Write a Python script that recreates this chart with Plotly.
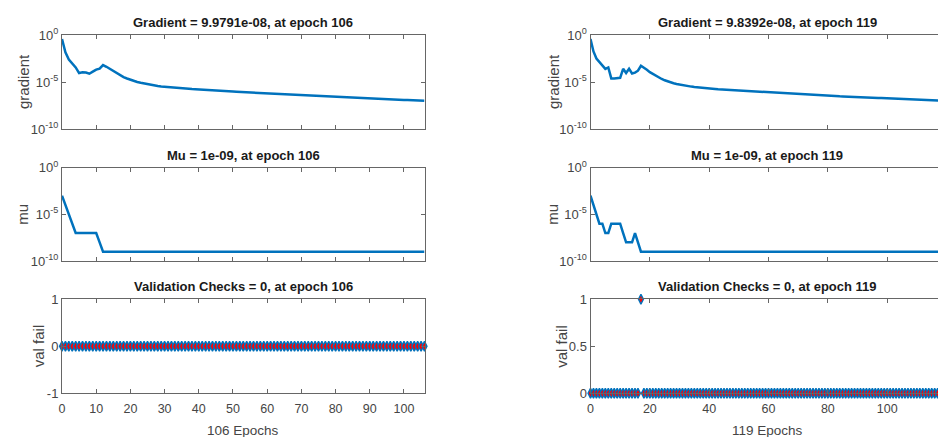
import plotly.graph_objects as go

# ---------------------------------------------------------------- data
# Training run A: 106 epochs (epochs 0..106)
epochs_a = list(range(107))
grad_exp_a = [  # log10 of gradient, epochs 0..105
    -0.42, -1.85, -2.6, -3.0, -3.45, -4.05, -3.97, -4.0, -4.12, -3.9,
    -3.68, -3.58, -3.2, -3.38, -3.6, -3.85, -4.08, -4.3, -4.48, -4.63,
    -4.77, -4.9, -5.0, -5.08, -5.16, -5.24, -5.31, -5.37, -5.42, -5.47,
    -5.51, -5.55, -5.58, -5.61, -5.64, -5.67, -5.7, -5.72, -5.75, -5.77,
    -5.8, -5.82, -5.84, -5.87, -5.89, -5.91, -5.93, -5.95, -5.97, -6.0,
    -6.02, -6.04, -6.06, -6.08, -6.1, -6.12, -6.14, -6.16, -6.18, -6.2,
    -6.22, -6.24, -6.26, -6.28, -6.3, -6.31, -6.33, -6.35, -6.37, -6.39,
    -6.41, -6.43, -6.45, -6.47, -6.48, -6.5, -6.52, -6.54, -6.56, -6.57,
    -6.59, -6.61, -6.63, -6.64, -6.66, -6.68, -6.69, -6.71, -6.73, -6.74,
    -6.76, -6.77, -6.79, -6.8, -6.82, -6.83, -6.85, -6.86, -6.88, -6.89,
    -6.91, -6.92, -6.94, -6.95, -6.97, -6.98,
]
grad_final_a = 9.9791e-08
mu_a = [
    1e-3, 1e-4, 1e-5, 1e-6, 1e-7, 1e-7, 1e-7, 1e-7, 1e-7, 1e-7,
    1e-7, 1e-8, 1e-9, 1e-9, 1e-9, 1e-9, 1e-9, 1e-9, 1e-9, 1e-9,
    1e-9, 1e-9, 1e-9, 1e-9, 1e-9, 1e-9, 1e-9, 1e-9, 1e-9, 1e-9,
    1e-9, 1e-9, 1e-9, 1e-9, 1e-9, 1e-9, 1e-9, 1e-9, 1e-9, 1e-9,
    1e-9, 1e-9, 1e-9, 1e-9, 1e-9, 1e-9, 1e-9, 1e-9, 1e-9, 1e-9,
    1e-9, 1e-9, 1e-9, 1e-9, 1e-9, 1e-9, 1e-9, 1e-9, 1e-9, 1e-9,
    1e-9, 1e-9, 1e-9, 1e-9, 1e-9, 1e-9, 1e-9, 1e-9, 1e-9, 1e-9,
    1e-9, 1e-9, 1e-9, 1e-9, 1e-9, 1e-9, 1e-9, 1e-9, 1e-9, 1e-9,
    1e-9, 1e-9, 1e-9, 1e-9, 1e-9, 1e-9, 1e-9, 1e-9, 1e-9, 1e-9,
    1e-9, 1e-9, 1e-9, 1e-9, 1e-9, 1e-9, 1e-9, 1e-9, 1e-9, 1e-9,
    1e-9, 1e-9, 1e-9, 1e-9, 1e-9, 1e-9, 1e-9,
]
val_fail_a = [
    0, 0, 0, 0, 0, 0, 0, 0, 0, 0, 0, 0, 0, 0, 0, 0, 0, 0, 0, 0,
    0, 0, 0, 0, 0, 0, 0, 0, 0, 0, 0, 0, 0, 0, 0, 0, 0, 0, 0, 0,
    0, 0, 0, 0, 0, 0, 0, 0, 0, 0, 0, 0, 0, 0, 0, 0, 0, 0, 0, 0,
    0, 0, 0, 0, 0, 0, 0, 0, 0, 0, 0, 0, 0, 0, 0, 0, 0, 0, 0, 0,
    0, 0, 0, 0, 0, 0, 0, 0, 0, 0, 0, 0, 0, 0, 0, 0, 0, 0, 0, 0,
    0, 0, 0, 0, 0, 0, 0,
]

# Training run B: 119 epochs (epochs 0..119)
epochs_b = list(range(120))
grad_exp_b = [  # log10 of gradient, epochs 0..118
    -0.42, -1.75, -2.5, -2.9, -3.2, -3.6, -3.45, -4.62, -4.62, -4.6,
    -4.55, -3.6, -4.05, -3.6, -4.1, -4.0, -3.8, -3.28, -3.45, -3.7,
    -3.95, -4.15, -4.35, -4.52, -4.68, -4.82, -4.94, -5.04, -5.13, -5.21,
    -5.28, -5.34, -5.4, -5.45, -5.49, -5.53, -5.57, -5.6, -5.63, -5.66,
    -5.69, -5.72, -5.74, -5.77, -5.79, -5.81, -5.83, -5.85, -5.87, -5.89,
    -5.91, -5.93, -5.95, -5.97, -5.99, -6.01, -6.03, -6.05, -6.07, -6.09,
    -6.11, -6.13, -6.15, -6.17, -6.19, -6.21, -6.22, -6.24, -6.26, -6.28,
    -6.29, -6.31, -6.33, -6.34, -6.36, -6.38, -6.39, -6.41, -6.43, -6.44,
    -6.46, -6.47, -6.49, -6.5, -6.52, -6.53, -6.55, -6.56, -6.57, -6.59,
    -6.6, -6.62, -6.63, -6.64, -6.66, -6.67, -6.68, -6.7, -6.71, -6.72,
    -6.74, -6.75, -6.76, -6.78, -6.79, -6.8, -6.81, -6.83, -6.84, -6.85,
    -6.86, -6.88, -6.89, -6.9, -6.91, -6.93, -6.94, -6.95, -6.97,
]
grad_final_b = 9.8392e-08
mu_b = [
    1e-3, 1e-4, 1e-5, 1e-6, 1e-6, 1e-7, 1e-7, 1e-6, 1e-6, 1e-6,
    1e-6, 1e-7, 1e-8, 1e-8, 1e-8, 1e-7, 1e-8, 1e-9, 1e-9, 1e-9,
    1e-9, 1e-9, 1e-9, 1e-9, 1e-9, 1e-9, 1e-9, 1e-9, 1e-9, 1e-9,
    1e-9, 1e-9, 1e-9, 1e-9, 1e-9, 1e-9, 1e-9, 1e-9, 1e-9, 1e-9,
    1e-9, 1e-9, 1e-9, 1e-9, 1e-9, 1e-9, 1e-9, 1e-9, 1e-9, 1e-9,
    1e-9, 1e-9, 1e-9, 1e-9, 1e-9, 1e-9, 1e-9, 1e-9, 1e-9, 1e-9,
    1e-9, 1e-9, 1e-9, 1e-9, 1e-9, 1e-9, 1e-9, 1e-9, 1e-9, 1e-9,
    1e-9, 1e-9, 1e-9, 1e-9, 1e-9, 1e-9, 1e-9, 1e-9, 1e-9, 1e-9,
    1e-9, 1e-9, 1e-9, 1e-9, 1e-9, 1e-9, 1e-9, 1e-9, 1e-9, 1e-9,
    1e-9, 1e-9, 1e-9, 1e-9, 1e-9, 1e-9, 1e-9, 1e-9, 1e-9, 1e-9,
    1e-9, 1e-9, 1e-9, 1e-9, 1e-9, 1e-9, 1e-9, 1e-9, 1e-9, 1e-9,
    1e-9, 1e-9, 1e-9, 1e-9, 1e-9, 1e-9, 1e-9, 1e-9, 1e-9, 1e-9,
]
val_fail_b = [
    0, 0, 0, 0, 0, 0, 0, 0, 0, 0, 0, 0, 0, 0, 0, 0, 0, 1, 0, 0,
    0, 0, 0, 0, 0, 0, 0, 0, 0, 0, 0, 0, 0, 0, 0, 0, 0, 0, 0, 0,
    0, 0, 0, 0, 0, 0, 0, 0, 0, 0, 0, 0, 0, 0, 0, 0, 0, 0, 0, 0,
    0, 0, 0, 0, 0, 0, 0, 0, 0, 0, 0, 0, 0, 0, 0, 0, 0, 0, 0, 0,
    0, 0, 0, 0, 0, 0, 0, 0, 0, 0, 0, 0, 0, 0, 0, 0, 0, 0, 0, 0,
    0, 0, 0, 0, 0, 0, 0, 0, 0, 0, 0, 0, 0, 0, 0, 0, 0, 0, 0, 0,
]

# tick positions / labels
log_tickvals = [1e-10, 1e-5, 1]
log_ticktext = ["10<sup>-10</sup>", "10<sup>-5</sup>", "10<sup>0</sup>"]
xticks_a = [0, 10, 20, 30, 40, 50, 60, 70, 80, 90, 100]
xticks_b = [0, 20, 40, 60, 80, 100, 120]
val_ticks_a = [-1, 0, 1]
val_ticks_b = [0, 0.5, 1]

# ---------------------------------------------------------------- style
W, H = 938, 437
FONT = "Liberation Sans, Arial, Helvetica, sans-serif"
LINE_BLUE = "#0072BD"
AXIS_COL = "#666666"
TEXT_COL = "#454545"


def px_x(p):
    return p / W


def px_y(p):
    return 1 - p / H


grad_a = [10 ** e for e in grad_exp_a] + [grad_final_a]
grad_b = [10 ** e for e in grad_exp_b] + [grad_final_b]

# panel boxes in pixels; run B's axes run past the right edge of the page
col_a = (62, 424.5)
col_b = (590.5, 938)
px_per_epoch_a = (col_a[1] - col_a[0]) / epochs_a[-1]
px_per_epoch_b = 2.967
rows = [(35, 129), (167.7, 261), (299.3, 393.3)]
x_end_b = (col_b[1] - col_b[0]) / px_per_epoch_b

fig = go.Figure()

panels = [
    # (axis id, x, y, kind)
    (1, epochs_a, grad_a, "line"),
    (2, epochs_a, mu_a, "line"),
    (3, epochs_a, val_fail_a, "marker"),
    (4, epochs_b, grad_b, "line"),
    (5, epochs_b, mu_b, "line"),
    (6, epochs_b, val_fail_b, "marker"),
]

for idx, xs, ys, kind in panels:
    xa = "x" if idx == 1 else f"x{idx}"
    ya = "y" if idx == 1 else f"y{idx}"
    if kind == "line":
        fig.add_trace(go.Scatter(
            x=xs, y=ys, mode="lines", xaxis=xa, yaxis=ya,
            line=dict(color=LINE_BLUE, width=2.5), showlegend=False,
            hoverinfo="skip"))
    else:
        fig.add_trace(go.Scatter(
            x=xs, y=ys, mode="markers", xaxis=xa, yaxis=ya, cliponaxis=False,
            marker=dict(symbol="diamond-tall", size=7, color="#FF0000",
                        line=dict(color=LINE_BLUE, width=1.4)),
            showlegend=False, hoverinfo="skip"))

layout = dict(
    width=W, height=H, margin=dict(l=0, r=0, t=0, b=0, autoexpand=False),
    paper_bgcolor="white", plot_bgcolor="white", template="none",
    font=dict(family=FONT, size=12, color=TEXT_COL),
)

common_x = dict(showline=True, linecolor=AXIS_COL, linewidth=1, ticks="inside",
                ticklen=4, tickcolor=AXIS_COL, showgrid=False, zeroline=False,
                automargin=False, tickfont=dict(size=12.5, color=TEXT_COL),
                ticklabelstandoff=4)
common_y = dict(showline=True, linecolor=AXIS_COL, linewidth=1, ticks="inside",
                ticklen=4, tickcolor=AXIS_COL, showgrid=False, zeroline=False,
                automargin=False, tickfont=dict(size=13, color=TEXT_COL))

for idx in range(1, 7):
    left = idx <= 3
    r = rows[(idx - 1) % 3]
    col = col_a if left else col_b
    xkey = "xaxis" if idx == 1 else f"xaxis{idx}"
    ykey = "yaxis" if idx == 1 else f"yaxis{idx}"
    yanchor = "y" if idx == 1 else f"y{idx}"
    xanchor = "x" if idx == 1 else f"x{idx}"
    is_val = (idx - 1) % 3 == 2
    xd = dict(common_x)
    xd.update(domain=[px_x(col[0]), px_x(col[1])], anchor=yanchor,
              range=[0, epochs_a[-1]] if left else [0, x_end_b],
              tickmode="array", tickvals=xticks_a if left else xticks_b,
              showticklabels=is_val, mirror="ticks")
    yd = dict(common_y)
    yd.update(domain=[px_y(r[1]), px_y(r[0])], anchor=xanchor,
              mirror="ticks" if left else False)
    if is_val:
        yd.update(range=[-1, 1] if left else [0, 1], tickmode="array",
                  tickvals=val_ticks_a if left else val_ticks_b,
                  ticktext=["-1", "0", "1"] if left else ["0", "0.5", "1"])
    else:
        yd.update(type="log", range=[-10, 0], tickmode="array",
                  tickvals=log_tickvals, ticktext=log_ticktext)
    layout[xkey] = xd
    layout[ykey] = yd

fig.update_layout(**layout)

# panel titles, axis labels
annotations = []
runs = [
    (col_a, px_per_epoch_a, epochs_a, grad_final_a, mu_a, val_fail_a,
     [23, 22.5, 38]),
    (col_b, px_per_epoch_b, epochs_b, grad_final_b, mu_b, val_fail_b,
     [553, 552.5, 561.5]),
]
title_y = [22.5, 156, 286]
for col, ppe, ep, gfin, mu, vf, ylab_x in runs:
    # centre of the full axis span (epoch 0 .. last epoch)
    cx = px_x(col[0] + ep[-1] * ppe / 2)
    titles = [
        f"Gradient = {gfin:.4e}, at epoch {ep[-1]}",
        f"Mu = {mu[-1]:.0e}, at epoch {ep[-1]}",
        f"Validation Checks = {vf[-1]}, at epoch {ep[-1]}",
    ]
    ylabels = ["gradient", "mu", "val fail"]
    for i in range(3):
        annotations.append(dict(
            text=f"<b>{titles[i]}</b>", x=cx, y=px_y(title_y[i]), xref="paper",
            yref="paper", xanchor="center", yanchor="middle", showarrow=False,
            font=dict(family=FONT, size=13, color="#1a1a1a")))
        annotations.append(dict(
            text=ylabels[i], x=px_x(ylab_x[i]),
            y=px_y((rows[i][0] + rows[i][1]) / 2), xref="paper", yref="paper",
            xanchor="center", yanchor="middle", textangle=-90, showarrow=False,
            font=dict(family=FONT, size=15, color=TEXT_COL)))
    annotations.append(dict(
        text=f"{ep[-1]} Epochs", x=cx, y=px_y(430), xref="paper", yref="paper",
        xanchor="center", yanchor="middle", showarrow=False,
        font=dict(family=FONT, size=13.5, color=TEXT_COL)))

fig.update_layout(annotations=annotations)
fig.write_html("out.html")
